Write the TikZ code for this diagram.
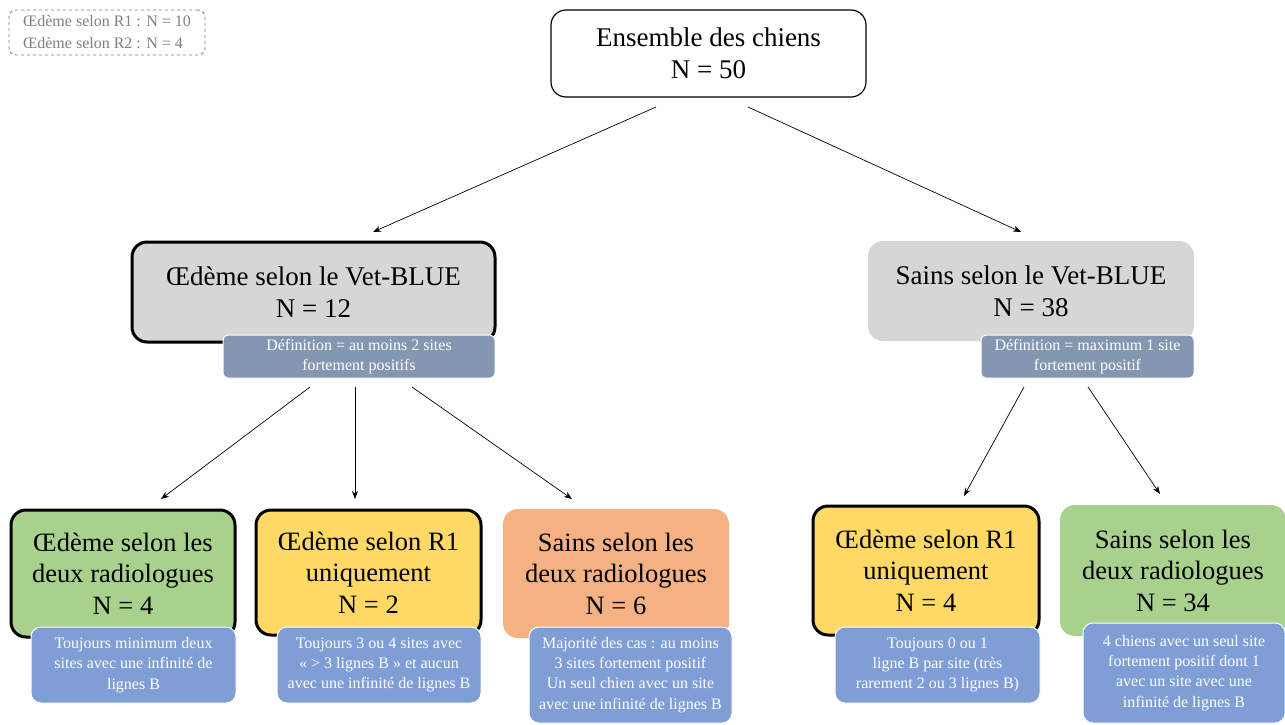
\documentclass[tikz,border=0pt]{standalone}
\usepackage{fontspec}
\setmainfont{Liberation Serif}
\usetikzlibrary{arrows.meta}
\definecolor{boxgray}{HTML}{D6D6D6}
\definecolor{defblue}{HTML}{8497B0}
\definecolor{noteblue}{HTML}{7F9ED6}
\definecolor{bgreen}{HTML}{A9D18E}
\definecolor{byellow}{HTML}{FFD966}
\definecolor{borange}{HTML}{F4B183}
\definecolor{leggray}{HTML}{7F7F7F}
\tikzset{
  bigbox/.style={rectangle, rounded corners=15pt, inner sep=0pt, align=center,
    font=\fontsize{27}{32}\selectfont, text=black},
  botbox/.style={rectangle, rounded corners=15pt, inner sep=0pt, align=center,
    font=\fontsize{26.5}{31.5}\selectfont, text=black},
  thickborder/.style={draw=black, line width=3pt},
  defbox/.style={rectangle, rounded corners=5pt, inner sep=0pt, align=center,
    fill=defblue, draw=white, line width=1pt, text=white,
    font=\fontsize{16}{19.5}\selectfont},
  notebox/.style={rectangle, rounded corners=10pt, inner sep=0pt, align=center,
    fill=noteblue, draw=white, line width=1pt, text=white,
    font=\fontsize{16}{20.3}\selectfont},
  legbox/.style={rectangle, rounded corners=7pt, inner sep=0pt, align=left,
    draw=leggray, dashed, line width=0.9pt, text=leggray,
    font=\fontsize{16}{22}\selectfont},
  conn/.style={draw=black, line width=0.7pt, -{Stealth[length=8pt,width=6pt]}}
}
\begin{document}
\begin{tikzpicture}[x=1pt,y=-1pt]
\useasboundingbox (0,0) rectangle (1285,724);
% legend
\node[legbox, minimum width=196pt, minimum height=45pt] (leg) at (107,32.5)
  {\OE{}dème selon R1 : N = 10\\\OE{}dème selon R2 : N = 4};
% top
\node[bigbox, draw=black, line width=1.2pt, fill=white, minimum width=315pt, minimum height=87pt] (top) at (708.5,53.5)
  {Ensemble des chiens\\N = 50};
% middle
\node[bigbox, thickborder, fill=boxgray, minimum width=363pt, minimum height=100pt] (lmid) at (313.5,292)
  {\OE{}dème selon le Vet-BLUE\\N = 12};
\node[defbox, minimum width=272pt, minimum height=43pt] (ldef) at (359,356.5)
  {Définition = au moins 2 sites\\fortement positifs};
\node[bigbox, fill=boxgray, minimum width=326pt, minimum height=100pt] (rmid) at (1031,291)
  {Sains selon le Vet-BLUE\\N = 38};
\node[defbox, minimum width=213pt, minimum height=43pt] (rdef) at (1087.5,356.5)
  {Définition = maximum 1 site\\fortement positif};
% bottom boxes
\node[botbox, thickborder, fill=bgreen, minimum width=224pt, minimum height=127pt] (b1) at (123,573.5)
  {\OE{}dème selon les\\deux radiologues\\N = 4};
\node[botbox, thickborder, fill=byellow, minimum width=225pt, minimum height=125pt] (b2) at (368.5,572.5)
  {\OE{}dème selon R1\\uniquement\\N = 2};
\node[botbox, fill=borange, minimum width=226pt, minimum height=129pt] (b3) at (616,573.5)
  {Sains selon les\\deux radiologues\\N = 6};
\node[botbox, thickborder, fill=byellow, minimum width=226pt, minimum height=129pt] (b4) at (926,570.5)
  {\OE{}dème selon R1\\uniquement\\N = 4};
\node[botbox, fill=bgreen, minimum width=226pt, minimum height=131pt] (b5) at (1173,570.5)
  {Sains selon les\\deux radiologues\\N = 34};
% notes
\node[notebox, minimum width=205pt, minimum height=76pt] (n1) at (133.5,665)
  {Toujours minimum deux\\sites avec une infinité de\\lignes B};
\node[notebox, minimum width=204pt, minimum height=76pt] (n2) at (379,665)
  {Toujours 3 ou 4 sites avec\\« > 3 lignes B » et aucun\\avec une infinité de lignes B};
\node[notebox, minimum width=203pt, minimum height=96pt] (n3) at (630.5,675)
  {Majorité des cas : au moins\\3 sites fortement positif\\Un seul chien avec un site\\avec une infinité de lignes B};
\node[notebox, minimum width=205pt, minimum height=76pt] (n4) at (937.5,665)
  {Toujours 0 ou 1\\ligne B par site (très\\rarement 2 ou 3 lignes B)};
\node[notebox, minimum width=202pt, minimum height=100pt] (n5) at (1184,673)
  {4 chiens avec un seul site\\fortement positif dont 1\\avec un site avec une\\infinité de lignes B};
% connector end points
\coordinate (t1) at (656,107);
\coordinate (t2) at (748,107);
\coordinate (m1) at (373,232);
\coordinate (m2) at (1021,232);
\coordinate (l1) at (310,387);
\coordinate (l2) at (355,387);
\coordinate (l3) at (412,387);
\coordinate (r1) at (1024,387);
\coordinate (r2) at (1088,387);
\coordinate (e1) at (161,499);
\coordinate (e2) at (355,499);
\coordinate (e3) at (572,499);
\coordinate (e4) at (964,496);
\coordinate (e5) at (1160,494);
\draw[conn] (t1) -- (m1);
\draw[conn] (t2) -- (m2);
\draw[conn] (l1) -- (e1);
\draw[conn] (l2) -- (e2);
\draw[conn] (l3) -- (e3);
\draw[conn] (r1) -- (e4);
\draw[conn] (r2) -- (e5);
\end{tikzpicture}
\end{document}
